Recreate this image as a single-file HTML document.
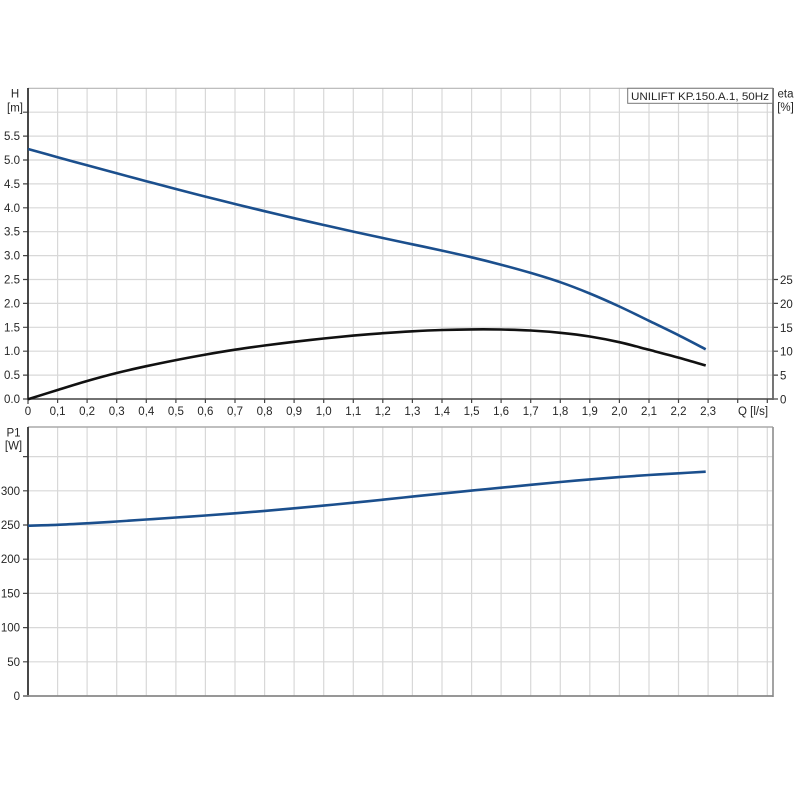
<!DOCTYPE html>
<html><head><meta charset="utf-8"><style>
html,body{margin:0;padding:0;background:#fff;}
svg{display:block;}
text{font-family:"Liberation Sans",Arial,sans-serif;fill:#262626;font-size:11.5px;}
</style></head><body>
<svg id="chart" width="800" height="800" viewBox="0 0 800 800" xmlns="http://www.w3.org/2000/svg">
<rect width="800" height="800" fill="#fff"/>
<!-- TOP PLOT grid -->
<g stroke="#d8d8d8" stroke-width="1.2" fill="none">
<path d="M57.6,88V399M87.1,88V399M116.7,88V399M146.3,88V399M175.9,88V399M205.4,88V399M235,88V399M264.6,88V399M294.1,88V399M323.7,88V399M353.3,88V399M382.8,88V399M412.4,88V399M442,88V399M471.6,88V399M501.1,88V399M530.7,88V399M560.3,88V399M589.8,88V399M619.4,88V399M649,88V399M678.5,88V399M708.1,88V399M737.7,88V399M767.3,88V399"/>
<path d="M28,375.1H773M28,351.2H773M28,327.3H773M28,303.4H773M28,279.5H773M28,255.6H773M28,231.7H773M28,207.8H773M28,183.9H773M28,160H773M28,136.1H773M28,112.2H773"/>
</g>
<line x1="28" y1="88.3" x2="773" y2="88.3" stroke="#b5b5b5" stroke-width="1.2"/>
<g stroke="#444" stroke-width="1.2">
<path d="M23,399H28M23,375.1H28M23,351.2H28M23,327.3H28M23,303.4H28M23,279.5H28M23,255.6H28M23,231.7H28M23,207.8H28M23,183.9H28M23,160H28M23,136.1H28M23,112.2H28"/>
<path d="M28,399V404M57.6,399V403M87.1,399V403M116.7,399V403M146.3,399V403M175.9,399V403M205.4,399V403M235,399V403M264.6,399V403M294.1,399V403M323.7,399V403M353.3,399V403M382.8,399V403M412.4,399V403M442,399V403M471.6,399V403M501.1,399V403M530.7,399V403M560.3,399V403M589.8,399V403M619.4,399V403M649,399V403M678.5,399V403M708.1,399V403M737.7,399V403M767.3,399V403"/>
<path d="M773,399H778M773,375.1H778M773,351.2H778M773,327.3H778M773,303.4H778M773,279.5H778"/>
</g>
<line x1="28" y1="88" x2="28" y2="400" stroke="#333" stroke-width="1.8"/>
<line x1="27" y1="399" x2="773" y2="399" stroke="#444" stroke-width="1.6"/>
<line x1="773" y1="88" x2="773" y2="400" stroke="#666" stroke-width="1.8"/>
<!-- legend -->
<rect x="627.7" y="88.3" width="145" height="15" fill="#fff" stroke="#777" stroke-width="1"/>
<text x="631" y="100" textLength="138" lengthAdjust="spacingAndGlyphs" style="font-size:11px">UNILIFT KP.150.A.1, 50Hz</text>
<g text-anchor="end">
<text x="20" y="403">0.0</text><text x="20" y="379.1">0.5</text><text x="20" y="355.2">1.0</text><text x="20" y="331.3">1.5</text><text x="20" y="307.4">2.0</text><text x="20" y="283.5">2.5</text><text x="20" y="259.6">3.0</text><text x="20" y="235.7">3.5</text><text x="20" y="211.8">4.0</text><text x="20" y="187.9">4.5</text><text x="20" y="164">5.0</text><text x="20" y="140.1">5.5</text>
</g>
<g text-anchor="middle">
<text x="15" y="97.5">H</text><text x="15" y="111.5">[m]</text>
<text x="785.5" y="97.5">eta</text><text x="785.5" y="111">[%]</text>
<text x="13.5" y="436.5">P1</text><text x="13.5" y="449.5">[W]</text>
<text x="28" y="415">0</text><text x="57.6" y="415">0,1</text><text x="87.1" y="415">0,2</text><text x="116.7" y="415">0,3</text><text x="146.3" y="415">0,4</text><text x="175.9" y="415">0,5</text><text x="205.4" y="415">0,6</text><text x="235" y="415">0,7</text><text x="264.6" y="415">0,8</text><text x="294.1" y="415">0,9</text><text x="323.7" y="415">1,0</text><text x="353.3" y="415">1,1</text><text x="382.8" y="415">1,2</text><text x="412.4" y="415">1,3</text><text x="442" y="415">1,4</text><text x="471.6" y="415">1,5</text><text x="501.1" y="415">1,6</text><text x="530.7" y="415">1,7</text><text x="560.3" y="415">1,8</text><text x="589.8" y="415">1,9</text><text x="619.4" y="415">2,0</text><text x="649" y="415">2,1</text><text x="678.5" y="415">2,2</text><text x="708.1" y="415">2,3</text>
<text x="753" y="415">Q [l/s]</text>
</g>
<g text-anchor="start">
<text x="780" y="403.5">0</text><text x="780" y="379.6">5</text><text x="780" y="355.7">10</text><text x="780" y="331.8">15</text><text x="780" y="307.9">20</text><text x="780" y="284">25</text>
</g>
<!-- curves top -->
<polyline class="smooth" fill="none" stroke="#1b4f8d" stroke-width="2.6" stroke-linejoin="round"
points="28,149 57.6,157.2 87.1,165.3 116.7,173.3 146.3,181.2 175.9,189 205.4,196.6 235,204 264.6,211.2 294.1,218.2 323.7,225 353.3,231.6 382.8,238 412.4,244.3 442,250.6 471.6,257.3 501.1,264.7 530.7,272.9 560.3,282.2 589.8,293.5 619.4,306.5 649,320.8 678.5,335.2 705.7,349.3"/>
<polyline class="smooth" fill="none" stroke="#111" stroke-width="2.6" stroke-linejoin="round"
points="28,399.3 57.6,390 87.1,381 116.7,373 146.3,366.2 175.9,360.1 205.4,354.6 235,349.7 264.6,345.5 294.1,341.8 323.7,338.5 353.3,335.6 382.8,333.2 412.4,331.3 442,330 471.6,329.4 501.1,329.5 530.7,330.5 560.3,332.8 589.8,336.5 619.4,342.2 649,349.8 678.5,357.6 705.7,365.5"/>

<!-- BOTTOM PLOT -->
<g stroke="#d8d8d8" stroke-width="1.2" fill="none">
<path d="M57.6,427V696M87.1,427V696M116.7,427V696M146.3,427V696M175.9,427V696M205.4,427V696M235,427V696M264.6,427V696M294.1,427V696M323.7,427V696M353.3,427V696M382.8,427V696M412.4,427V696M442,427V696M471.6,427V696M501.1,427V696M530.7,427V696M560.3,427V696M589.8,427V696M619.4,427V696M649,427V696M678.5,427V696M708.1,427V696M737.7,427V696M767.3,427V696"/>
<path d="M28,661.8H773M28,627.6H773M28,593.4H773M28,559.2H773M28,525H773M28,490.8H773M28,456.6H773"/>
</g>
<line x1="28" y1="427" x2="773" y2="427" stroke="#aaa" stroke-width="1.4"/>
<line x1="773" y1="427" x2="773" y2="697" stroke="#999" stroke-width="1.8"/>
<g stroke="#444" stroke-width="1.2">
<path d="M23,696H28M23,661.8H28M23,627.6H28M23,593.4H28M23,559.2H28M23,525H28M23,490.8H28M23,456.6H28"/>
</g>
<line x1="28" y1="427" x2="28" y2="697" stroke="#333" stroke-width="1.8"/>
<line x1="27" y1="696" x2="773" y2="696" stroke="#888" stroke-width="1.8"/>
<g text-anchor="end">
<text x="20" y="700">0</text><text x="20" y="665.8">50</text><text x="20" y="631.6">100</text><text x="20" y="597.4">150</text><text x="20" y="563.2">200</text><text x="20" y="529">250</text><text x="20" y="494.8">300</text>
</g>
<polyline class="smooth" fill="none" stroke="#1b4f8d" stroke-width="2.6" stroke-linejoin="round"
points="28,525.7 57.6,524.8 87.1,523.3 116.7,521.5 146.3,519.5 175.9,517.5 205.4,515.5 235,513.3 264.6,510.9 294.1,508.3 323.7,505.6 353.3,502.7 382.8,499.7 412.4,496.6 442,493.6 471.6,490.6 501.1,487.7 530.7,484.8 560.3,482 589.8,479.4 619.4,477.1 649,475 678.5,473.3 705.7,471.7"/>
</svg>
<script>
(function(){
  var ns="http://www.w3.org/2000/svg";
  var pls=document.querySelectorAll("polyline.smooth");
  for(var k=0;k<pls.length;k++){
    var pl=pls[k];
    var pts=pl.getAttribute("points").trim().split(/\s+/).map(function(s){var a=s.split(",");return [parseFloat(a[0]),parseFloat(a[1])];});
    var n=pts.length;
    var d="M"+pts[0][0]+","+pts[0][1];
    for(var i=0;i<n-1;i++){
      var p0=pts[i>0?i-1:i],p1=pts[i],p2=pts[i+1],p3=pts[i+2<n?i+2:i+1];
      var c1x=p1[0]+(p2[0]-p0[0])/6,c1y=p1[1]+(p2[1]-p0[1])/6;
      var c2x=p2[0]-(p3[0]-p1[0])/6,c2y=p2[1]-(p3[1]-p1[1])/6;
      d+="C"+c1x.toFixed(2)+","+c1y.toFixed(2)+" "+c2x.toFixed(2)+","+c2y.toFixed(2)+" "+p2[0]+","+p2[1];
    }
    var path=document.createElementNS(ns,"path");
    path.setAttribute("d",d);
    ["fill","stroke","stroke-width","stroke-linejoin"].forEach(function(a){path.setAttribute(a,pl.getAttribute(a));});
    pl.parentNode.replaceChild(path,pl);
  }
})();
</script>
</body></html>
